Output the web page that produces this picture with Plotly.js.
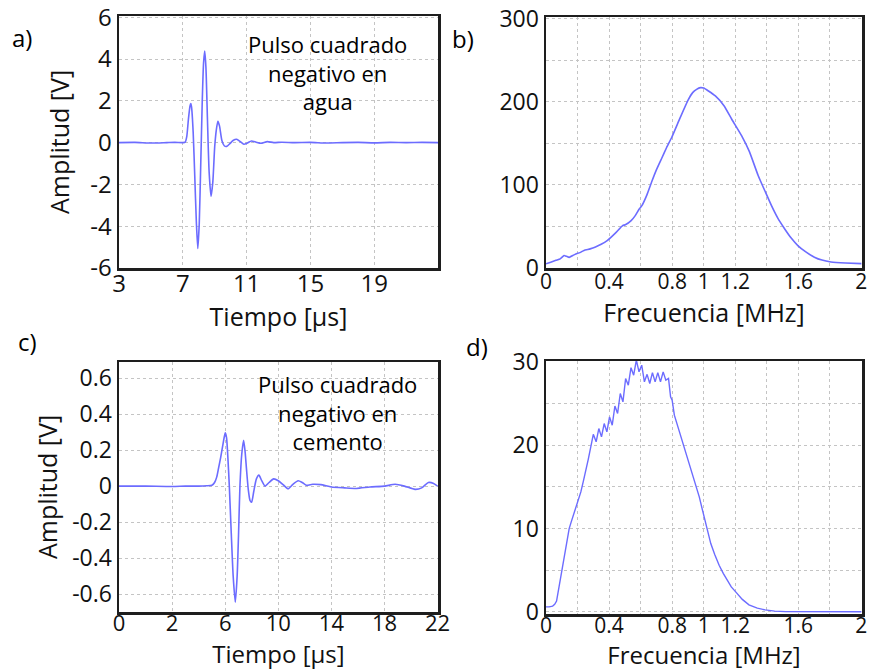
<!DOCTYPE html>
<html>
<head>
<meta charset="utf-8">
<script src="https://cdn.plot.ly/plotly-3.0.1.min.js"></script>
<style>html,body{margin:0;padding:0;background:#fff;}#chart{width:869px;height:671px;}</style>
</head>
<body>
<div id="chart"></div>
<script>
// Panel a: pulse in water
const tA = [3, 4, 5, 6, 6.5, 7, 7.15, 7.25, 7.35, 7.45, 7.5, 7.55, 7.65, 7.75, 7.85, 7.94, 8.03, 8.12, 8.22, 8.3, 8.375, 8.45, 8.55, 8.65, 8.77, 8.88, 9.0, 9.1, 9.2, 9.3, 9.45, 9.6, 9.75, 9.95, 10.15, 10.375, 10.6, 10.83, 11.05, 11.3, 11.6, 11.9, 12.3, 12.7, 13.2, 14, 15, 16, 17, 18, 19, 20, 21, 22, 23];
const vA = [0, 0.01, -0.02, 0, 0.01, 0, 0.02, 0.3, 1.1, 1.75, 1.87, 1.7, 0.5, -1.6, -3.8, -5.07, -3.9, -1.2, 2.0, 3.8, 4.38, 3.6, 1.0, -1.4, -2.57, -1.9, -0.2, 0.6, 1.02, 0.8, 0.1, -0.15, -0.18, -0.05, 0.1, 0.16, 0.05, -0.08, -0.02, 0.08, 0.02, -0.03, 0.05, 0.0, 0.02, 0, 0.01, -0.02, 0, 0.01, -0.01, 0.01, 0, 0.01, 0];

// Panel b: spectrum in water
const fB = [0, 0.03, 0.063, 0.09, 0.115, 0.13, 0.147, 0.17, 0.189, 0.215, 0.241, 0.28, 0.314, 0.35, 0.388, 0.44, 0.486, 0.503, 0.54, 0.566, 0.591, 0.608, 0.64, 0.671, 0.7, 0.734, 0.765, 0.797, 0.849, 0.901, 0.93, 0.955, 0.98, 1.0, 1.03, 1.074, 1.13, 1.178, 1.241, 1.29, 1.346, 1.39, 1.43, 1.47, 1.514, 1.555, 1.597, 1.65, 1.702, 1.75, 1.807, 1.9, 2.0];
const mB = [5, 7, 9.3, 11, 15, 14, 12.8, 15, 16.9, 18.5, 21.2, 23, 25.3, 28.5, 33, 42, 51, 52, 57, 63, 71, 75, 88, 104, 118, 132, 145, 157, 180, 202, 211, 215, 217, 216.5, 213, 207, 195, 179, 159, 140, 111, 92, 75, 60, 47, 36, 27, 19, 13, 9.5, 7.3, 6, 5.3];

// Panel c: pulse in cement
const tC = [-2, 0, 2, 3, 4, 4.6, 5.0, 5.2, 5.36, 5.5, 5.66, 5.85, 6.0, 6.1, 6.2, 6.31, 6.45, 6.6, 6.76, 6.9, 7.0, 7.11, 7.25, 7.39, 7.5, 7.62, 7.74, 7.87, 7.99, 8.15, 8.35, 8.54, 8.75, 9.0, 9.3, 9.65, 10.0, 10.4, 10.74, 11.1, 11.5, 11.8, 12.1, 12.6, 13.2, 14.0, 15.0, 15.9, 16.9, 18.0, 18.8, 19.5, 20.3, 20.8, 21.3, 21.7, 22];
const vC = [0, 0, -0.002, 0, 0, 0.002, 0.005, 0.02, 0.05, 0.1, 0.16, 0.24, 0.296, 0.27, 0.16, 0.0, -0.25, -0.5, -0.646, -0.5, -0.28, 0.0, 0.18, 0.255, 0.19, 0.08, -0.02, -0.08, -0.09, -0.03, 0.04, 0.061, 0.03, 0.0, 0.02, 0.04, 0.03, 0.005, -0.015, 0.01, 0.03, 0.02, 0.005, 0.01, 0.008, -0.005, -0.01, -0.013, -0.005, 0, 0.01, 0.0, -0.018, -0.01, 0.02, 0.015, 0];

// Panel d: spectrum in cement
const fD = [0, 0.02, 0.042, 0.055, 0.067, 0.075, 0.084, 0.095, 0.105, 0.115, 0.126, 0.137, 0.147, 0.16, 0.175, 0.189, 0.205, 0.221, 0.237, 0.252, 0.268, 0.284,
  0.300, 0.318, 0.335, 0.352, 0.369, 0.386, 0.403, 0.420, 0.437, 0.454, 0.471, 0.488, 0.505, 0.522, 0.539, 0.556, 0.573, 0.590, 0.607, 0.624, 0.641, 0.658, 0.675, 0.692, 0.709, 0.726, 0.743, 0.760, 0.777,
  0.79, 0.80, 0.814, 0.83, 0.856, 0.872, 0.888, 0.91, 0.929, 0.95, 0.972, 0.99, 1.003, 1.02, 1.045, 1.07, 1.098, 1.125, 1.15, 1.175, 1.203, 1.245, 1.287, 1.34, 1.39, 1.45, 1.52, 1.6, 1.8, 2.0];
const mD = [0.6, 0.6, 0.7, 0.9, 1.3, 2.2, 3.2, 4.2, 5.2, 6.4, 7.6, 8.9, 10.0, 10.8, 11.7, 12.5, 13.5, 14.4, 15.7, 16.8, 18.3, 19.8,
  21.3, 20.4, 22.0, 21.0, 22.6, 21.6, 23.4, 22.4, 24.7, 23.8, 26.2, 25.2, 28.0, 27.2, 29.3, 28.4, 30.2, 28.8, 29.6, 27.6, 28.5, 27.4, 28.7, 27.6, 28.7, 27.6, 28.8, 27.8, 28.0,
  25.8, 25.4, 23.6, 22.6, 21.0, 20.0, 19.0, 17.6, 16.6, 15.2, 13.8, 12.4, 11.4, 10.0, 8.2, 6.9, 5.6, 4.6, 3.8, 3.0, 2.4, 1.5, 0.84, 0.45, 0.24, 0.1, 0.04, 0.03, 0.02, 0.02];

// Tick labels
const ticksA_x = [3, 7, 11, 15, 19];
const ticksA_y = [-6, -4, -2, 0, 2, 4, 6];
const ticksA_ytext = ['-6', '-4', '-2', '0', '2', '4', '6'];
const ticksF_vals = [0, 0.2, 0.4, 0.6, 0.8, 1, 1.2, 1.4, 1.6, 1.8, 2];
const ticksF_text = ['0', '', '0.4', '', '0.8', '1', '1.2', '', '1.6', '', '2'];
const ticksB_y = [0, 50, 100, 150, 200, 250, 300];
const ticksB_ytext = ['0', '', '100', '', '200', '', '300'];
const ticksC_x = [-2, 2, 6, 10, 14, 18, 22];
const ticksC_xtext = ['0', '2', '6', '10', '14', '18', '22'];
const ticksC_y = [-0.6, -0.4, -0.2, 0, 0.2, 0.4, 0.6];
const ticksC_ytext = ['-0.6', '-0.4', '-0.2', '0', '0.2', '0.4', '0.6'];
const ticksD_y = [0, 5, 10, 15, 20, 25, 30];
const ticksD_ytext = ['0', '', '10', '', '20', '', '30'];

const W = 869, H = 671;
const px = v => v / W, py = v => 1 - v / H;
const FONT = '"Open Sans", "Noto Sans", sans-serif';
const lineColor = '#6c6cff';

function ax(extra, size) {
  return Object.assign({
    showline: true, mirror: true, linecolor: '#1e1e1e', linewidth: 2.5,
    showgrid: true, gridcolor: '#c4c4c4', griddash: 'dot', gridwidth: 1,
    zeroline: false, ticks: '', tickmode: 'array', ticklabeloverflow: 'allow',
    tickfont: {family: FONT, size: size || 24, color: '#111'},
  }, extra);
}
const titleFont = {family: FONT, size: 25, color: '#111'};
const titleFontLow = {family: FONT, size: 24, color: '#111'};

const traces = [
  {x: tA, y: vA, xaxis: 'x', yaxis: 'y', mode: 'lines', line: {color: lineColor, width: 1.6, shape: 'spline', smoothing: 0.6}},
  {x: fB, y: mB, xaxis: 'x2', yaxis: 'y2', mode: 'lines', line: {color: lineColor, width: 1.6, shape: 'spline', smoothing: 0.4}},
  {x: tC, y: vC, xaxis: 'x3', yaxis: 'y3', mode: 'lines', line: {color: lineColor, width: 1.6, shape: 'spline', smoothing: 0.6}},
  {x: fD, y: mD, xaxis: 'x4', yaxis: 'y4', mode: 'lines', line: {color: lineColor, width: 1.4}}
];

function ann(text, x, y, size) {
  return {text: text, xref: 'paper', yref: 'paper', x: px(x), y: py(y), xanchor: 'center', yanchor: 'middle',
    showarrow: false, align: 'center', font: {family: FONT, size: size, color: '#000'}};
}

const layout = {
  width: W, height: H,
  margin: {l: 0, r: 0, t: 0, b: 0},
  paper_bgcolor: '#fff', plot_bgcolor: '#fff',
  showlegend: false,
  xaxis: ax({domain: [px(119), px(438)], range: [3, 23], tickvals: ticksA_x, anchor: 'y', ticklabelstandoff: -7,
    title: {text: 'Tiempo [µs]', font: titleFont, standoff: 0}}),
  yaxis: ax({domain: [py(268), py(16)], range: [-6, 6.06], tickvals: ticksA_y, ticktext: ticksA_ytext, anchor: 'x',
    title: {text: 'Amplitud [V]', font: titleFont, standoff: 14}}),
  xaxis2: ax({domain: [px(546), px(862)], range: [0, 2.004], tickvals: ticksF_vals, ticktext: ticksF_text, anchor: 'y2', ticklabelstandoff: -7,
    title: {text: 'Frecuencia [MHz]', font: titleFont, standoff: 0}}, 21),
  yaxis2: ax({domain: [py(268), py(17)], range: [0, 302], tickvals: ticksB_y, ticktext: ticksB_ytext, anchor: 'x2'}, 23),
  xaxis3: ax({domain: [px(119), px(438)], range: [-2, 22.03], tickvals: ticksC_x, ticktext: ticksC_xtext, anchor: 'y3', ticklabelstandoff: -10,
    title: {text: 'Tiempo [µs]', font: titleFontLow, standoff: 0}}, 22),
  yaxis3: ax({domain: [py(612), py(362)], range: [-0.7, 0.69], tickvals: ticksC_y, ticktext: ticksC_ytext, anchor: 'x3',
    title: {text: 'Amplitud [V]', font: titleFont, standoff: 8}}, 23),
  xaxis4: ax({domain: [px(546), px(862)], range: [0, 2.004], tickvals: ticksF_vals, ticktext: ticksF_text, anchor: 'y4', ticklabelstandoff: -9,
    title: {text: 'Frecuencia [MHz]', font: titleFontLow, standoff: 0}}, 21),
  yaxis4: ax({domain: [py(614), py(361)], range: [-0.25, 30.1], tickvals: ticksD_y, ticktext: ticksD_ytext, anchor: 'x4'}, 23),
  annotations: [
    ann('a)', 22, 37, 24), ann('b)', 463, 38, 24), ann('c)', 27, 341, 24), ann('d)', 477, 347, 24),
    ann('Pulso cuadrado<br>negativo en<br>agua', 327, 72, 22),
    ann('Pulso cuadrado<br>negativo en<br>cemento', 337, 412, 22)
  ]
};

Plotly.newPlot('chart', traces, layout, {staticPlot: true, displayModeBar: false});
</script>
</body>
</html>
